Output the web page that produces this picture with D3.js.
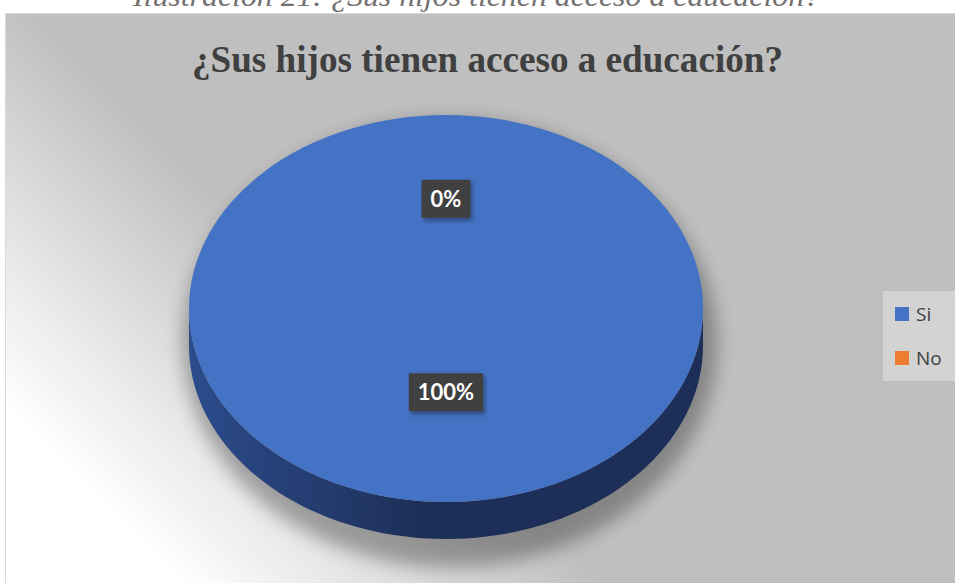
<!DOCTYPE html>
<html>
<head>
<meta charset="utf-8">
<script src="https://cdn.jsdelivr.net/npm/d3@7"></script>
<style>
  body { margin: 0; background: #fff; }
  svg { display: block; }
</style>
</head>
<body>
<div id="chart"></div>
<script>
// data
var categories = ["Si", "No"];
var values = [100, 0];
var labels = ["100%", "0%"];
var colors = ["#4472c4", "#ed7d31"];
var sideColors = [["#2c4c8c", "#1d2f58"], ["#9c4f1c", "#7a3d14"]];

var W = 955, H = 583;

var svg = d3.select("#chart").append("svg")
  .attr("width", W)
  .attr("height", H);

var defs = svg.append("defs");

// background gradient (white at lower left, gray elsewhere)
var bg = defs.append("linearGradient")
  .attr("id", "bg")
  .attr("gradientUnits", "userSpaceOnUse")
  .attr("x1", 120).attr("y1", 520)
  .attr("x2", 330).attr("y2", 310);
bg.append("stop").attr("offset", "0").attr("stop-color", "#ffffff");
bg.append("stop").attr("offset", "1").attr("stop-color", "#bfbfbf");

var blur = defs.append("filter").attr("id", "blur")
  .attr("x", "-20%").attr("y", "-20%").attr("width", "140%").attr("height", "140%");
blur.append("feGaussianBlur").attr("stdDeviation", 9);

var lblShadow = defs.append("filter").attr("id", "lblshadow")
  .attr("x", "-20%").attr("y", "-20%").attr("width", "150%").attr("height", "160%");
lblShadow.append("feDropShadow").attr("dx", 2).attr("dy", 3)
  .attr("stdDeviation", 2).attr("flood-color", "#000").attr("flood-opacity", 0.35);

sideColors.forEach(function(c, i) {
  var g = defs.append("linearGradient").attr("id", "side" + i)
    .attr("x1", 0).attr("x2", 1).attr("y1", 0).attr("y2", 0);
  g.append("stop").attr("offset", "0").attr("stop-color", c[0]);
  g.append("stop").attr("offset", "0.45").attr("stop-color", c[1]);
  g.append("stop").attr("offset", "1").attr("stop-color", c[1]);
});

// caption above the chart (cut at the top edge, as in the source)
svg.append("text")
  .attr("x", 133)
  .attr("y", 6)
  .attr("textLength", 687)
  .attr("lengthAdjust", "spacingAndGlyphs")
  .style("font-family", "'Liberation Serif', 'DejaVu Serif', serif")
  .style("font-style", "italic")
  .style("font-size", "30px")
  .style("fill", "#767171")
  .text("Ilustración 21: ¿Sus hijos tienen acceso a educación?");

// chart area
svg.append("rect")
  .attr("x", 5.5).attr("y", 13.5)
  .attr("width", W + 20).attr("height", H)
  .attr("fill", "url(#bg)")
  .attr("stroke", "#d9d9d9");

// title
svg.append("text")
  .attr("x", 192)
  .attr("y", 72)
  .attr("textLength", 591)
  .attr("lengthAdjust", "spacingAndGlyphs")
  .style("font-family", "'Liberation Serif', 'DejaVu Serif', serif")
  .style("font-weight", "bold")
  .style("font-size", "37px")
  .style("fill", "#404040")
  .text("¿Sus hijos tienen acceso a educación?");

// pie geometry
var cx = 446, cy = 308.5, rx = 257, ry = 193.5, depth = 37;

var pie = d3.pie().sort(null).value(function(d) { return d; });
var arcs = pie(values);

function pt(a, r, dy) {
  return [cx + r * Math.sin(a), cy - (ry / rx) * r * Math.cos(a) + (dy || 0)];
}

var g = svg.append("g");

// shadow
g.append("ellipse")
  .attr("cx", cx + 4).attr("cy", cy + depth / 2 + 16)
  .attr("rx", rx + 10).attr("ry", ry + depth / 2 + 12)
  .attr("fill", "#000")
  .attr("opacity", 0.3)
  .attr("filter", "url(#blur)");

// sides (front half only)
arcs.forEach(function(d, i) {
  var s = Math.max(d.startAngle, Math.PI / 2),
      e = Math.min(d.endAngle, Math.PI * 1.5);
  if (e <= s) return;
  var n = 80, top = [], bot = [];
  for (var k = 0; k <= n; k++) {
    var a = s + (e - s) * k / n;
    top.push(pt(a, rx, 0));
    bot.push(pt(a, rx, depth));
  }
  g.append("path")
    .attr("d", d3.line()(top.concat(bot.reverse())) + "Z")
    .attr("fill", "url(#side" + i + ")");
});

// top faces
var arc = d3.arc().innerRadius(0).outerRadius(rx);
g.append("g")
  .attr("transform", "translate(" + cx + "," + cy + ") scale(1," + (ry / rx) + ")")
  .selectAll("path")
  .data(arcs)
  .enter().append("path")
    .attr("d", arc)
    .attr("fill", function(d, i) { return colors[i]; });

// data labels
var labelArc = d3.arc().innerRadius(rx * 0.5).outerRadius(rx * 0.5);
var lg = svg.append("g").selectAll("g")
  .data(arcs)
  .enter().append("g")
    .attr("transform", function(d) {
      var c = labelArc.centroid(d);
      return "translate(" + (cx + c[0]) + "," + (cy + c[1] * ry / rx - 13) + ")";
    });

lg.append("text")
  .attr("text-anchor", "middle")
  .attr("dy", "0.36em")
  .style("font-family", "Lato, 'Open Sans', sans-serif")
  .style("font-weight", "bold")
  .style("font-size", "22px")
  .style("fill", "#fff")
  .text(function(d, i) { return labels[i]; });

lg.each(function() {
  var t = d3.select(this).select("text");
  var b = t.node().getBBox();
  d3.select(this).insert("rect", "text")
    .attr("x", b.x - 9).attr("y", -19)
    .attr("width", b.width + 18).attr("height", 38)
    .attr("fill", "#404040")
    .attr("filter", "url(#lblshadow)");
});

// legend
var legend = svg.append("g").attr("transform", "translate(883,291)");
legend.append("rect")
  .attr("width", 72).attr("height", 90)
  .attr("fill", "#d3d3d3");

var items = legend.selectAll("g.item")
  .data(categories)
  .enter().append("g")
    .attr("class", "item")
    .attr("transform", function(d, i) { return "translate(12," + (16 + i * 44) + ")"; });

items.append("rect")
  .attr("width", 14).attr("height", 14)
  .attr("fill", function(d, i) { return colors[i]; });

items.append("text")
  .attr("x", 21).attr("y", 7)
  .attr("dy", "0.35em")
  .style("font-family", "'Open Sans', Lato, sans-serif")
  .style("font-size", "19px")
  .style("fill", "#404040")
  .text(function(d) { return d; });
</script>
</body>
</html>
